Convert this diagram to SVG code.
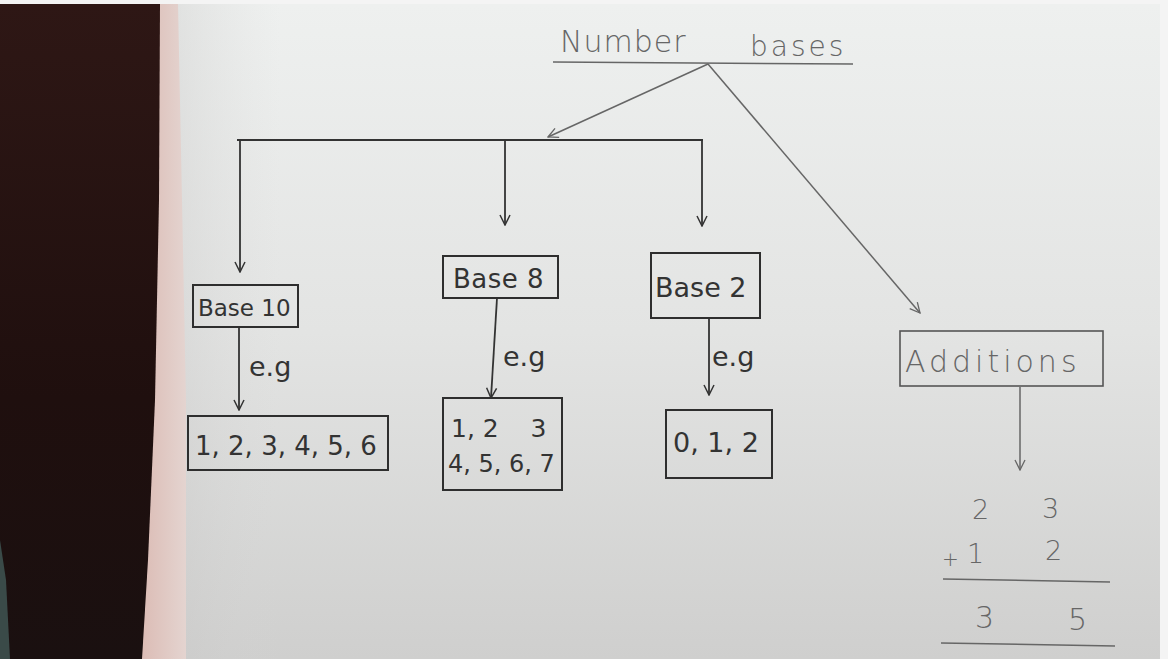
<svg xmlns="http://www.w3.org/2000/svg" width="1168" height="659" viewBox="0 0 1168 659">
  <defs>
    <linearGradient id="paper" x1="0" y1="0" x2="0" y2="1">
      <stop offset="0" stop-color="#eef0ef"/>
      <stop offset="0.5" stop-color="#e3e4e3"/>
      <stop offset="1" stop-color="#cfcfce"/>
    </linearGradient>
    <linearGradient id="paperSide" x1="0" y1="0" x2="1" y2="0">
      <stop offset="0" stop-color="#c4c3c2" stop-opacity="0.4"/>
      <stop offset="0.3" stop-color="#d8d8d7" stop-opacity="0"/>
      <stop offset="1" stop-color="#ffffff" stop-opacity="0"/>
    </linearGradient>
    <linearGradient id="edge" x1="0" y1="0" x2="1" y2="0">
      <stop offset="0" stop-color="#b07f74"/>
      <stop offset="0.6" stop-color="#d6aca3"/>
      <stop offset="1" stop-color="#e4d4d0"/>
    </linearGradient>
    <linearGradient id="desk" x1="0" y1="0" x2="0" y2="1">
      <stop offset="0" stop-color="#2e1715"/>
      <stop offset="0.6" stop-color="#1f0f0e"/>
      <stop offset="1" stop-color="#1a1010"/>
    </linearGradient>
    <marker id="head" viewBox="0 0 12 12" refX="11" refY="6" markerWidth="12" markerHeight="12" markerUnits="userSpaceOnUse" orient="auto">
      <path d="M1,1 L11,6 L1,11" fill="none" stroke="#333" stroke-width="1.5"/>
    </marker>
    <marker id="headLight" viewBox="0 0 12 12" refX="11" refY="6" markerWidth="12" markerHeight="12" markerUnits="userSpaceOnUse" orient="auto">
      <path d="M1,1 L11,6 L1,11" fill="none" stroke="#666" stroke-width="1.3"/>
    </marker>
  </defs>
  <style>
    .ink { fill: none; stroke: #333; stroke-width: 1.8; }
    .pencil { fill: none; stroke: #666; stroke-width: 1.5; }
    .box { fill: none; stroke: #2e2e2e; stroke-width: 2; }
    .boxLight { fill: none; stroke: #555; stroke-width: 1.6; }
    .hand { font-family: "DejaVu Sans", "Liberation Sans", sans-serif; fill: #333; }
    .handLight { font-family: "DejaVu Sans", "Liberation Sans", sans-serif; fill: #666; }
  </style>

  <!-- backdrop: desk, page edge, paper -->
  <rect x="0" y="0" width="1168" height="659" fill="#f4f4f4"/>
  <rect x="0" y="4" width="1160" height="655" fill="url(#paper)"/>
  <rect x="160" y="4" width="400" height="655" fill="url(#paperSide)"/>
  <path d="M0,4 L178,4 L182,200 L186,400 L186,659 L0,659 Z" fill="url(#edge)"/>
  <path d="M0,4 L160,4 L159,200 L155,400 L148,560 L142,659 L0,659 Z" fill="url(#desk)"/>
  <path d="M0,540 L6,580 L10,659 L0,659 Z" fill="#3a4a48"/>

  <!-- title -->
  <g id="title">
    <text class="handLight" x="560" y="52" font-size="30" font-weight="300" letter-spacing="1">Number</text>
    <text class="handLight" x="750" y="56" font-size="28" font-weight="300" letter-spacing="3">bases</text>
    <path class="pencil" d="M553,62 L853,64"/>
  </g>

  <!-- connectors -->
  <g id="connectors">
    <path class="pencil" d="M708,64 L548,137" marker-end="url(#headLight)"/>
    <path class="pencil" d="M708,64 L920,313" marker-end="url(#headLight)"/>
    <path class="ink" d="M237,140 L703,140"/>
    <path class="ink" d="M240,140 L240,272" marker-end="url(#head)"/>
    <path class="ink" d="M505,140 L505,225" marker-end="url(#head)"/>
    <path class="ink" d="M702,140 L702,226" marker-end="url(#head)"/>
    <path class="ink" d="M239,327 L239,410" marker-end="url(#head)"/>
    <path class="ink" d="M497,298 L491,398" marker-end="url(#head)"/>
    <path class="ink" d="M709,318 L709,395" marker-end="url(#head)"/>
    <path class="pencil" d="M1020,387 L1020,470" marker-end="url(#headLight)"/>
    <text class="hand" x="249" y="376" font-size="27">e.g</text>
    <text class="hand" x="503" y="366" font-size="27">e.g</text>
    <text class="hand" x="712" y="366" font-size="27">e.g</text>
  </g>

  <!-- base nodes -->
  <g id="base10">
    <rect class="box" x="193" y="285" width="105" height="42"/>
    <text class="hand" x="198" y="316" font-size="23">Base 10</text>
  </g>
  <g id="base8">
    <rect class="box" x="443" y="256" width="115" height="42"/>
    <text class="hand" x="453" y="288" font-size="26" letter-spacing="0.5">Base 8</text>
  </g>
  <g id="base2">
    <rect class="box" x="651" y="253" width="109" height="65"/>
    <text class="hand" x="655" y="297" font-size="27">Base 2</text>
  </g>
  <g id="additions">
    <rect class="boxLight" x="900" y="331" width="203" height="55"/>
    <text class="handLight" x="905" y="372" font-size="30" font-weight="300" letter-spacing="4">Additions</text>
  </g>

  <!-- example nodes -->
  <g id="example10">
    <rect class="box" x="188" y="416" width="200" height="54"/>
    <text class="hand" x="195" y="455" font-size="26">1, 2, 3, 4, 5, 6</text>
  </g>
  <g id="example8">
    <rect class="box" x="443" y="398" width="119" height="92"/>
    <text class="hand" x="451" y="437" font-size="25" xml:space="preserve">1, 2    3</text>
    <text class="hand" x="448" y="472" font-size="24">4, 5, 6, 7</text>
  </g>
  <g id="example2">
    <rect class="box" x="666" y="410" width="106" height="68"/>
    <text class="hand" x="673" y="452" font-size="27">0, 1, 2</text>
  </g>

  <!-- worked addition -->
  <g id="sum">
    <text class="handLight" x="972" y="519" font-size="27" font-weight="300">2</text>
    <text class="handLight" x="1042" y="518" font-size="27" font-weight="300">3</text>
    <text class="handLight" x="942" y="566" font-size="20" font-weight="300">+</text>
    <text class="handLight" x="967" y="563" font-size="27" font-weight="300">1</text>
    <text class="handLight" x="1045" y="560" font-size="27" font-weight="300">2</text>
    <path class="pencil" d="M943,579 L1110,582"/>
    <text class="handLight" x="975" y="628" font-size="30" font-weight="300">3</text>
    <text class="handLight" x="1068" y="630" font-size="30" font-weight="300">5</text>
    <path class="pencil" d="M941,643 L1115,646"/>
  </g>
</svg>
